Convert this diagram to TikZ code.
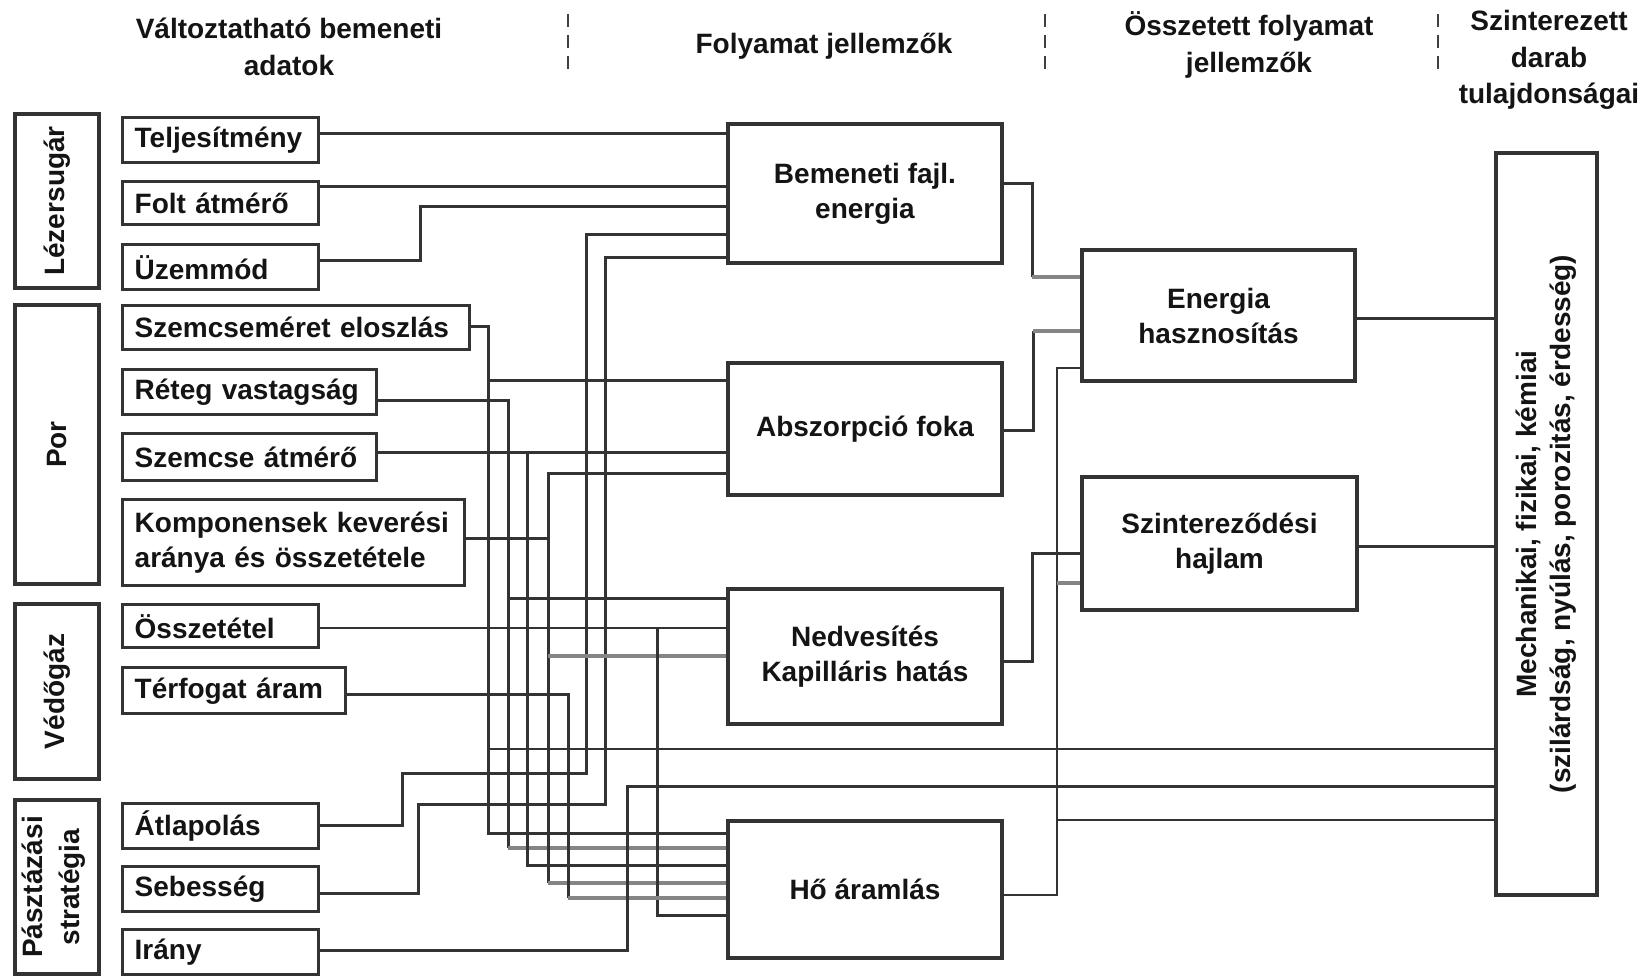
\documentclass[tikz,border=0pt]{standalone}
\usepackage{fontspec}
\setmainfont{Liberation Sans}
\begin{document}
\begin{tikzpicture}[x=1pt,y=-1pt,
  every node/.style={font=\bfseries\fontsize{28}{35}\selectfont, text=black!92},
  frame/.style={draw=black!80, line width=3.4pt, inner sep=0pt, rectangle},
  inbox/.style={frame, anchor=north west, align=left, inner xsep=12pt, inner ysep=0pt},
  pbox/.style={frame, align=center},
  catbox/.style={frame},
  head/.style={align=center, font=\bfseries\fontsize{28}{36.5}\selectfont},
  sepline/.style={draw=black!75, line width=2.8pt, dash pattern=on 13pt off 8pt},
  conn/.style={draw=black!80, line width=3pt},
  connthin/.style={draw=black!80, line width=2.3pt},
  conng/.style={draw=black!48, line width=3.2pt},
]
\fill[white] (0,0) rectangle (1650,976);
\useasboundingbox (0,0) rectangle (1650,976);

% headers
\node[head] (h1) at (289,47) {Változtatható bemeneti\\adatok};
\node[head] (h2) at (824,46) {Folyamat jellemzők};
\node[head] (h3) at (1249,45) {Összetett folyamat\\jellemzők};
\node[head] (h4) at (1549,60) {Szinterezett\\darab\\tulajdonságai};
\draw[sepline] (568,14) -- (568,76);
\draw[sepline] (1045,14) -- (1045,76);
\draw[sepline] (1438,14) -- (1438,76);

% category boxes
\node[catbox, minimum width=84pt, minimum height=174pt] (lez) at (57,201) {};
\node[catbox, minimum width=84pt, minimum height=279pt] (por) at (57,444.5) {};
\node[catbox, minimum width=84pt, minimum height=175pt] (ved) at (57,691.5) {};
\node[catbox, minimum width=84pt, minimum height=174pt] (pasz) at (57,887) {};
\node[rotate=90] (lezt) at (lez.center) {Lézersugár};
\node[rotate=90] (port) at (por.center) {Por};
\node[rotate=90] (vedt) at (ved.center) {Védőgáz};
\node[rotate=90, align=center, font=\bfseries\fontsize{28}{37}\selectfont] (paszt) at (54,887) {Pásztázási\\stratégia};

% input boxes
\node[inbox, minimum width=196pt, minimum height=45pt, text width=172pt] (telj) at (121,116) {Teljesítmény};
\node[inbox, minimum width=196pt, minimum height=43pt, text width=172pt] (folt) at (121,180) {Folt átmérő};
\node[inbox, minimum width=196pt, minimum height=45pt, text width=172pt] (uzem) at (121,243) {Üzemmód};
\node[inbox, minimum width=347pt, minimum height=44pt, text width=323pt] (szel) at (121,304) {Szemcseméret eloszlás};
\node[inbox, minimum width=254pt, minimum height=45pt, text width=230pt] (reteg) at (121,368) {Réteg vastagság};
\node[inbox, minimum width=254pt, minimum height=47pt, text width=230pt] (szat) at (121,432) {Szemcse átmérő};
\node[inbox, minimum width=342pt, minimum height=86pt, text width=318pt] (komp) at (121,498) {Komponensek keverési\\aránya és összetétele};
\node[inbox, minimum width=196pt, minimum height=43pt, text width=172pt] (ossz) at (121,603) {Összetétel};
\node[inbox, minimum width=223pt, minimum height=46pt, text width=199pt] (terf) at (121,666) {Térfogat áram};
\node[inbox, minimum width=196pt, minimum height=45pt, text width=172pt] (atlap) at (121,802) {Átlapolás};
\node[inbox, minimum width=196pt, minimum height=45pt, text width=172pt] (sebes) at (121,865) {Sebesség};
\node[inbox, minimum width=196pt, minimum height=45pt, text width=172pt] (irany) at (121,928) {Irány};

% process boxes
\node[pbox, minimum width=274pt, minimum height=139pt] (bem) at (865,193.5) {Bemeneti fajl.\\energia};
\node[pbox, minimum width=274pt, minimum height=132pt] (absz) at (865,429) {Abszorpció foka};
\node[pbox, minimum width=274pt, minimum height=135pt] (nedv) at (865,656.5) {Nedvesítés\\Kapilláris hatás};
\node[pbox, minimum width=274pt, minimum height=137pt] (ho) at (865,889.5) {Hő áramlás};
\node[pbox, minimum width=273pt, minimum height=131pt] (ener) at (1218.5,315.5) {Energia\\hasznosítás};
\node[pbox, minimum width=275pt, minimum height=133pt] (szint) at (1219.5,543.5) {Szintereződési\\hajlam};
\node[frame, minimum width=101pt, minimum height=742pt] (mech) at (1546.5,524) {};
\node[rotate=90, align=center, font=\bfseries\fontsize{28}{34}\selectfont] (mecht) at (mech.center) {Mechanikai, fizikai, kémiai\\(szilárdság, nyúlás, porozitás, érdesség)};

% connectors: inputs -> Bemeneti
\draw[conn] (telj.east |- 0,134) -- (bem.west |- 0,134);
\draw[conn] (folt.east |- 0,187) -- (bem.west |- 0,187);
\draw[conn] (uzem.east |- 0,261) -- (420,261) -- (420,207) -- (bem.west |- 0,207);
\draw[conn] (atlap.east |- 0,825) -- (402,825) -- (402,773) -- (586,773) -- (586,235) -- (bem.west |- 0,235);
\draw[conn] (sebes.east |- 0,893) -- (418,893) -- (418,804) -- (605,804) -- (605,258) -- (bem.west |- 0,258);

% Szemcseméret eloszlás
\draw[conn] (szel.east |- 0,327) -- (488,327) -- (488,833) -- (ho.west |- 0,833);
\draw[conn] (488,381) -- (absz.west |- 0,381);
\draw[connthin] (488,749) -- (mech.west |- 0,749);

% Réteg vastagság
\draw[conn] (reteg.east |- 0,400) -- (508,400) -- (508,848);
\draw[conng] (508,848) -- (ho.west |- 0,848);
\draw[conn] (508,598) -- (nedv.west |- 0,598);

% Szemcse átmérő
\draw[conn] (szat.east |- 0,452) -- (absz.west |- 0,452);
\draw[conn] (527,452) -- (527,865) -- (ho.west |- 0,865);

% Komponensek
\draw[conn] (komp.east |- 0,538) -- (548,538);
\draw[conn] (absz.west |- 0,473) -- (548,473) -- (548,883);
\draw[conng] (548,883) -- (ho.west |- 0,883);
\draw[conng] (548,656) -- (nedv.west |- 0,656);

% Összetétel
\draw[connthin] (ossz.east |- 0,628) -- (nedv.west |- 0,628);
\draw[conn] (657,628) -- (657,915) -- (ho.west |- 0,915);

% Térfogat áram
\draw[conn] (terf.east |- 0,694) -- (568,694) -- (568,898);
\draw[conng] (568,898) -- (ho.west |- 0,898);

% Irány
\draw[conn] (irany.east |- 0,950) -- (627,950) -- (627,786) -- (mech.west |- 0,786);

% process -> compound
\draw[conn] (bem.east |- 0,184) -- (1032,184) -- (1032,277);
\draw[conng] (1032,277) -- (ener.west |- 0,277);
\draw[conn] (absz.east |- 0,430) -- (1033,430) -- (1033,331);
\draw[conng] (1033,331) -- (ener.west |- 0,331);
\draw[conn] (nedv.east |- 0,661) -- (1032,661) -- (1032,553) -- (szint.west |- 0,553);
\draw[connthin] (ho.east |- 0,895) -- (1057,895) -- (1057,368) -- (ener.west |- 0,368);
\draw[conng] (1057,583) -- (szint.west |- 0,583);
\draw[connthin] (1057,820) -- (mech.west |- 0,820);

% compound -> properties
\draw[conn] (ener.east |- 0,319) -- (mech.west |- 0,319);
\draw[conn] (szint.east |- 0,546) -- (mech.west |- 0,546);
\end{tikzpicture}
\end{document}
